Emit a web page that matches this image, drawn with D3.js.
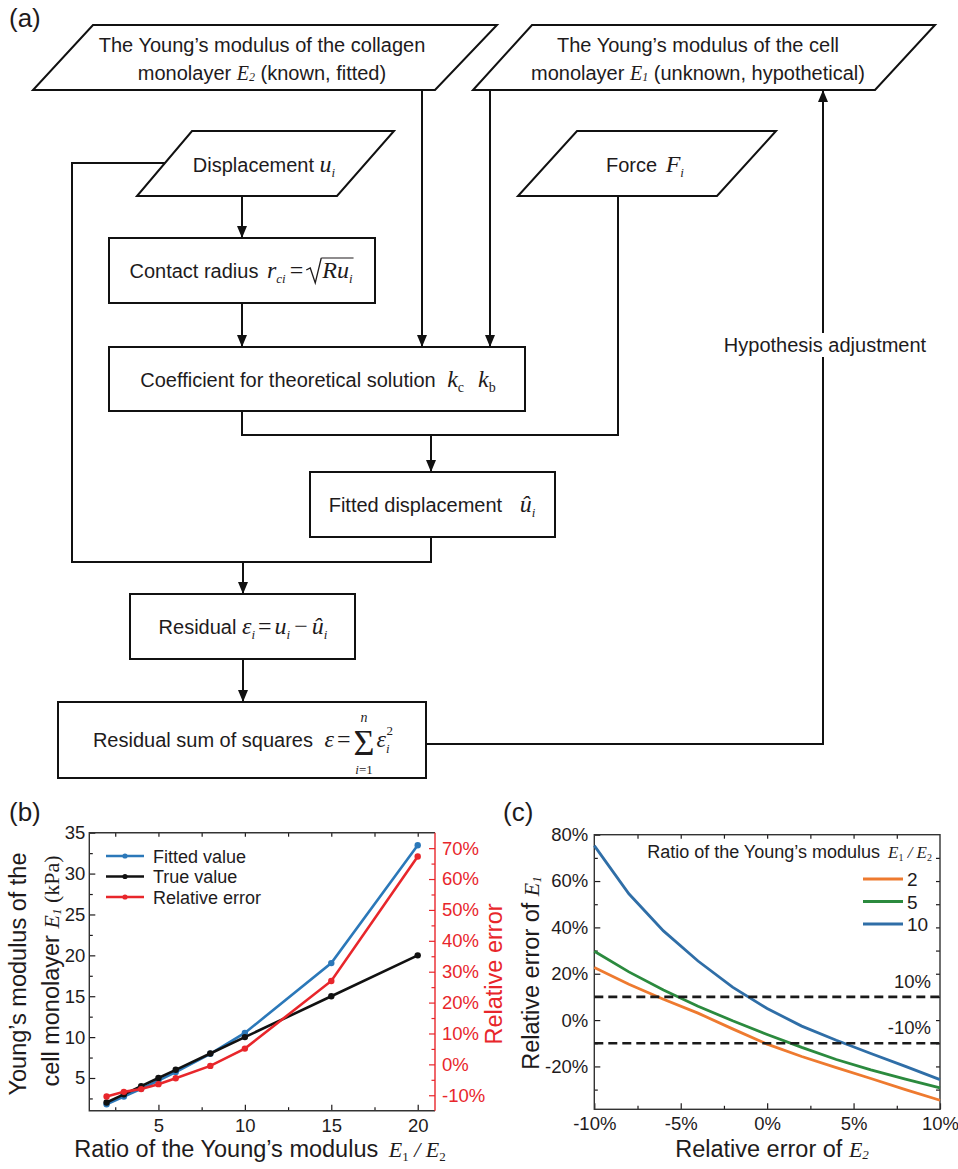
<!DOCTYPE html>
<html>
<head>
<meta charset="utf-8">
<script src="https://cdn.jsdelivr.net/npm/d3@7"></script>
<style>
  body { margin: 0; background: #fff; }
  svg { display: block; }
  text { white-space: pre; }
</style>
</head>
<body>
<script>
const W = 958, H = 1169;
const SANS = "Arial, 'Liberation Sans', Helvetica, sans-serif";
const SERIF = "'Times New Roman', 'Liberation Serif', serif";
const INK = "#1e1b1c";

// (b) fitted vs true Young's modulus of the cell monolayer
const ratios = [2, 3, 4, 5, 6, 8, 10, 15, 20];
const fittedE1 = [1.79, 2.73, 3.68, 4.68, 5.73, 7.96, 10.51, 19.05, 33.46];
const trueE1 = [2, 3, 4, 5, 6, 8, 10, 15, 20];
const relErr = [-10.4, -8.9, -8.0, -6.4, -4.5, -0.5, 5.1, 27.0, 67.3];
const legendB = ["Fitted value", "True value", "Relative error"];

// (c) relative error of E1 vs relative error of E2
const e2Err = [-10, -8, -6, -4, -2, 0, 2, 4, 6, 8, 10];
const ratioNames = ["2", "5", "10"];
const errRatio2 = [22.7, 15.5, 9.0, 3.0, -3.8, -10.4, -15.7, -20.5, -25.2, -30.0, -34.6];
const errRatio5 = [29.7, 20.8, 13.0, 6.0, -0.3, -6.2, -11.8, -17.0, -21.5, -25.5, -29.3];
const errRatio10 = [75.3, 54.5, 38.5, 25.5, 14.2, 5.0, -2.6, -8.7, -14.4, -20.0, -25.7];
const thresholds = [10, -10];

const svg = d3.select("body").append("svg")
    .attr("width", W)
    .attr("height", H)
    .style("font-family", SANS);

svg.append("rect").attr("width", W).attr("height", H).attr("fill", "#fff");

// arrow head
svg.append("defs").append("marker")
    .attr("id", "arr")
    .attr("viewBox", "0 0 12 10")
    .attr("refX", 12).attr("refY", 5)
    .attr("markerWidth", 12).attr("markerHeight", 10)
    .attr("markerUnits", "userSpaceOnUse")
    .attr("orient", "auto")
    .append("path").attr("d", "M0,0L12,5L0,10z").attr("fill", "#111");

// little helper: lays text pieces (sans, serif italic, sub/superscripts) one after another
function flow(parent, x, y, pieces, align = "middle", fill = INK) {
    const g = parent.append("g");
    let cur = 0, radStart = 0;
    pieces.forEach(p => {
        if (p.gap !== undefined) { cur += p.gap; return; }
        if (p.rad === "open") {
            g.append("path")
                .attr("d", `M${cur},-8L${cur + 4},-10L${cur + 9},5L${cur + 15},-20`)
                .attr("fill", "none").attr("stroke", fill).attr("stroke-width", 1.3);
            radStart = cur + 15;
            cur += 16;
            return;
        }
        if (p.rad === "close") {
            g.append("line").attr("x1", radStart).attr("x2", cur + 1)
                .attr("y1", -20).attr("y2", -20)
                .attr("stroke", fill).attr("stroke-width", 1.2);
            cur += 2;
            return;
        }
        if (p.sum) {
            const t = g.append("text").attr("x", cur).attr("y", 8).text("Σ")
                .attr("font-family", SERIF).attr("font-size", 36).attr("fill", fill);
            const w = t.node().getComputedTextLength();
            g.append("text").attr("x", cur + w / 2).attr("y", -25).text("n")
                .attr("text-anchor", "middle").attr("font-family", SERIF)
                .attr("font-style", "italic").attr("font-size", 14).attr("fill", fill);
            const lo = g.append("text").attr("x", cur + w / 2).attr("y", 27)
                .attr("text-anchor", "middle").attr("font-family", SERIF)
                .attr("font-size", 13).attr("fill", fill);
            lo.append("tspan").attr("font-style", "italic").text("i");
            lo.append("tspan").text("=1");
            cur += w + 2;
            return;
        }
        const t = g.append("text")
            .attr("x", cur).attr("y", p.dy || 0)
            .text(p.t)
            .attr("font-family", p.f === "s" ? SANS : SERIF)
            .attr("font-style", p.i ? "italic" : "normal")
            .attr("font-size", p.size || 20)
            .attr("fill", fill);
        cur += t.node().getComputedTextLength() + (p.dx || 0);
    });
    const x0 = align === "middle" ? x - cur / 2 : align === "end" ? x - cur : x;
    g.attr("transform", `translate(${x0},${y})`);
    return g;
}

const S = 20, M = 24, SB = 13;
const sans = t => ({ t, f: "s", size: S });
const it = t => ({ t, i: 1, size: M });
const sub = t => ({ t, i: 1, size: SB, dy: 5 });

// ---------- (a) flow chart ----------
const fa = svg.append("g");

function para(pts) {
    fa.append("path").attr("d", "M" + pts.map(p => p.join(",")).join("L") + "Z")
        .attr("fill", "#fff").attr("stroke", "#111").attr("stroke-width", 2);
}
function box(x0, y0, x1, y1) {
    fa.append("rect").attr("x", x0).attr("y", y0).attr("width", x1 - x0).attr("height", y1 - y0)
        .attr("fill", "#fff").attr("stroke", "#111").attr("stroke-width", 2);
}
function wire(pts, arrow) {
    const p = fa.append("path").attr("d", d3.line()(pts))
        .attr("fill", "none").attr("stroke", "#111").attr("stroke-width", 2);
    if (arrow) p.attr("marker-end", "url(#arr)");
}

// connectors first, shapes on top
wire([[242, 196], [242, 238]], true);
wire([[242, 303], [242, 347]], true);
wire([[422, 90], [422, 347]], true);
wire([[490, 90], [490, 347]], true);
wire([[618, 196], [618, 435], [242, 435], [242, 411]]);
wire([[431, 435], [431, 472]], true);
wire([[165, 163], [72, 163], [72, 562], [431, 562], [431, 537]]);
wire([[243, 562], [243, 594]], true);
wire([[243, 659], [243, 702]], true);
wire([[426, 744], [823, 744], [823, 90]], true);

para([[93, 25], [497, 25], [435, 90], [33, 90]]);
para([[532, 25], [935, 25], [875, 90], [473, 90]]);
para([[192, 131], [394, 131], [337, 196], [137, 196]]);
para([[577, 131], [776, 131], [717, 196], [518, 196]]);
box(109, 238, 375, 303);
box(109, 347, 525, 411);
box(310, 472, 555, 537);
box(130, 594, 355, 659);
box(58, 702, 426, 778);

flow(fa, 262, 52, [sans("The Young’s modulus of the collagen")]);
flow(fa, 262, 80, [sans("monolayer "), { t: "E", i: 1, size: 20 }, { t: "2", i: 1, size: 12, dy: 1 },
    sans(" (known, fitted)")]);
flow(fa, 698, 52, [sans("The Young’s modulus of the cell")]);
flow(fa, 698, 80, [sans("monolayer "), { t: "E", i: 1, size: 20 }, { t: "1", i: 1, size: 12, dy: 1 },
    sans(" (unknown, hypothetical)")]);
flow(fa, 264, 172, [sans("Displacement "), it("u"), sub("i")]);
flow(fa, 645, 172, [sans("Force "), { gap: 3 }, it("F"), sub("i")]);
flow(fa, 242, 278, [sans("Contact radius "), { gap: 3 }, it("r"), sub("ci"), { gap: 4 },
    { t: "=", size: M }, { gap: 3 }, { rad: "open" }, it("Ru"), sub("i"), { rad: "close" }]);
flow(fa, 318, 387, [sans("Coefficient for theoretical solution "), { gap: 6 }, it("k"),
    { t: "c", size: 14, dy: 5 }, { gap: 14 }, it("k"), { t: "b", size: 14, dy: 5 }]);
flow(fa, 432, 512, [sans("Fitted displacement "), { gap: 12 }, it("û"), sub("i")]);
flow(fa, 243, 634, [sans("Residual "), it("ε"), sub("i"), { gap: 3 }, { t: "=", size: M }, { gap: 3 },
    it("u"), sub("i"), { gap: 4 }, { t: "−", size: M }, { gap: 4 }, it("û"), sub("i")]);
flow(fa, 243, 747, [sans("Residual sum of squares "), { gap: 6 }, it("ε"), { gap: 3 },
    { t: "=", size: M }, { gap: 3 }, { sum: 1 }, it("ε"), { t: "i", i: 1, size: SB, dy: 6, dx: -3 },
    { t: "2", size: SB, dy: -12 }]);

// label on the feedback wire, with the wire broken behind it
const hyp = flow(fa, 825, 352, [sans("Hypothesis adjustment")]);
const hb = hyp.node().getBBox();
fa.insert("rect", () => hyp.node())
    .attr("x", 825 - hb.width / 2 - 2).attr("y", 352 + hb.y - 1)
    .attr("width", hb.width + 4).attr("height", hb.height + 2).attr("fill", "#fff");

// panel letters
[["(a)", 9, 27], ["(b)", 9, 821], ["(c)", 503, 821]].forEach(([t, x, y]) => {
    svg.append("text").attr("x", x).attr("y", y).text(t)
        .attr("font-size", 26).attr("fill", INK);
});

// ---------- shared axis styling ----------
function styleAxis(g, color, size) {
    g.select(".domain").remove();
    g.selectAll(".tick line").attr("stroke", color).attr("stroke-width", 1.2);
    g.selectAll(".tick text").attr("fill", color).attr("font-size", size)
        .attr("font-family", SANS);
}

// ---------- (b) ----------
const blue = "#2b78b9", red = "#e8262b", black = "#111";
const xb = d3.scaleLinear([1, 21], [89.3, 435]);
const yb = d3.scaleLinear([1, 35], [1110.7, 832.7]);
const yr = d3.scaleLinear([-15, 75], [1110.7, 832.7]);
const gb = svg.append("g");

const [bx0, bx1] = xb.range(), [by1, by0] = yb.range();

gb.append("g").attr("transform", `translate(0,${by1})`)
    .call(d3.axisBottom(xb).tickValues([5, 10, 15, 20]).tickSize(-6).tickPadding(8))
    .call(styleAxis, INK, 18.5);
gb.append("g").attr("transform", `translate(0,${by1})`)
    .call(d3.axisBottom(xb).tickValues([2.5, 7.5, 12.5, 17.5]).tickSize(-3.5).tickFormat(""))
    .call(styleAxis, INK, 0);
gb.append("g").attr("transform", `translate(0,${by0})`)
    .call(d3.axisTop(xb).tickValues([2.5, 5, 7.5, 10, 12.5, 15, 17.5, 20]).tickSize(-4).tickFormat(""))
    .call(styleAxis, INK, 0);
gb.append("g").attr("transform", `translate(${bx0},0)`)
    .call(d3.axisLeft(yb).tickValues(d3.range(5, 36, 5)).tickSize(-6).tickPadding(4))
    .call(styleAxis, INK, 18.5);
gb.append("g").attr("transform", `translate(${bx0},0)`)
    .call(d3.axisLeft(yb).tickValues(d3.range(2.5, 35, 5)).tickSize(-3.5).tickFormat(""))
    .call(styleAxis, INK, 0);
gb.append("g").attr("transform", `translate(${bx1},0)`)
    .call(d3.axisRight(yr).tickValues(d3.range(-10, 71, 10)).tickSize(-6).tickPadding(7)
        .tickFormat(d => d + "%"))
    .call(styleAxis, red, 18.5);
gb.append("g").attr("transform", `translate(${bx1},0)`)
    .call(d3.axisRight(yr).tickValues(d3.range(-5, 70, 10)).tickSize(-3.5).tickFormat(""))
    .call(styleAxis, red, 0);

// frame
gb.append("path").attr("d", `M${bx1},${by0}L${bx0},${by0}L${bx0},${by1}L${bx1},${by1}`)
    .attr("fill", "none").attr("stroke", "#333").attr("stroke-width", 1.4);
gb.append("line").attr("x1", bx1).attr("x2", bx1).attr("y1", by0).attr("y2", by1)
    .attr("stroke", red).attr("stroke-width", 1.4);

const seriesB = [
    { vals: fittedE1, color: blue, y: yb },
    { vals: trueE1, color: black, y: yb },
    { vals: relErr, color: red, y: yr }
];
seriesB.forEach(s => {
    const pts = ratios.map((r, i) => [xb(r), s.y(s.vals[i])]);
    gb.append("path").attr("d", d3.line()(pts))
        .attr("fill", "none").attr("stroke", s.color).attr("stroke-width", 2.6);
    gb.selectAll(null).data(pts).enter().append("circle")
        .attr("cx", d => d[0]).attr("cy", d => d[1]).attr("r", 3.2).attr("fill", s.color);
});

// legend (b)
seriesB.forEach((s, i) => {
    const ly = 856 + i * 20.5;
    gb.append("line").attr("x1", 106).attr("x2", 144).attr("y1", ly).attr("y2", ly)
        .attr("stroke", s.color).attr("stroke-width", 2.6);
    gb.append("circle").attr("cx", 125).attr("cy", ly).attr("r", 2.6).attr("fill", s.color);
    gb.append("text").attr("x", 153).attr("y", ly + 6.5).text(legendB[i])
        .attr("font-size", 18).attr("fill", INK);
});

// axis titles (b)
const AX = 23.5;
flow(gb, 260, 1157, [{ t: "Ratio of the Young’s modulus ", f: "s", size: AX }, { gap: 4 },
    { t: "E", i: 1, size: 22 }, { t: "1", size: 13, dy: 4 }, { t: " / ", i: 1, size: 22 },
    { t: "E", i: 1, size: 22 }, { t: "2", size: 13, dy: 4 }]);
const ylb1 = gb.append("g").attr("transform", "translate(25.5,974) rotate(-90)");
flow(ylb1, 0, 0, [{ t: "Young’s modulus of the", f: "s", size: AX }]);
const ylb2 = gb.append("g").attr("transform", "translate(59,971) rotate(-90)");
flow(ylb2, 0, 0, [{ t: "cell monolayer ", f: "s", size: AX }, { t: "E", i: 1, size: 22 },
    { t: "1", i: 1, size: 13, dy: 2 }, { t: " (kPa)", size: 22 }]);
const yrb = gb.append("g").attr("transform", "translate(502,974) rotate(-90)");
flow(yrb, 0, 0, [{ t: "Relative error", f: "s", size: AX }], "middle", red);

// ---------- (c) ----------
const cOrange = "#ee7a2f", cGreen = "#2b8a3e", cBlue = "#2f6ea7";
const xc = d3.scaleLinear([-10, 10], [594.3, 940]);
const yc = d3.scaleLinear([-38.5, 80], [1109.3, 834.7]);
const gc = svg.append("g");
const [cx0, cx1] = xc.range(), [cy1, cy0] = yc.range();
const pct = d => d + "%";

gc.append("g").attr("transform", `translate(0,${cy1})`)
    .call(d3.axisBottom(xc).tickValues([-10, -5, 0, 5, 10]).tickSize(-6).tickPadding(8).tickFormat(pct))
    .call(styleAxis, INK, 18.5);
gc.append("g").attr("transform", `translate(0,${cy1})`)
    .call(d3.axisBottom(xc).tickValues([-7.5, -2.5, 2.5, 7.5]).tickSize(-3.5).tickFormat(""))
    .call(styleAxis, INK, 0);
gc.append("g").attr("transform", `translate(0,${cy0})`)
    .call(d3.axisTop(xc).tickValues([-7.5, -5, -2.5, 0, 2.5, 5, 7.5]).tickSize(-4).tickFormat(""))
    .call(styleAxis, INK, 0);
gc.append("g").attr("transform", `translate(${cx0},0)`)
    .call(d3.axisLeft(yc).tickValues(d3.range(-20, 81, 20)).tickSize(-6).tickPadding(6).tickFormat(pct))
    .call(styleAxis, INK, 18.5);
gc.append("g").attr("transform", `translate(${cx0},0)`)
    .call(d3.axisLeft(yc).tickValues(d3.range(-30, 80, 20)).tickSize(-3.5).tickFormat(""))
    .call(styleAxis, INK, 0);
gc.append("g").attr("transform", `translate(${cx1},0)`)
    .call(d3.axisRight(yc).tickValues(d3.range(-30, 80, 10)).tickSize(-4).tickFormat(""))
    .call(styleAxis, INK, 0);

gc.append("rect").attr("x", cx0).attr("y", cy0).attr("width", cx1 - cx0).attr("height", cy1 - cy0)
    .attr("fill", "none").attr("stroke", "#333").attr("stroke-width", 1.4);

const seriesC = [
    { vals: errRatio2, color: cOrange },
    { vals: errRatio5, color: cGreen },
    { vals: errRatio10, color: cBlue }
];
seriesC.forEach(s => {
    gc.append("path")
        .attr("d", d3.line()(e2Err.map((e, i) => [xc(e), yc(s.vals[i])])))
        .attr("fill", "none").attr("stroke", s.color).attr("stroke-width", 2.8);
});

thresholds.forEach(t => {
    gc.append("line").attr("x1", cx0).attr("x2", cx1).attr("y1", yc(t)).attr("y2", yc(t))
        .attr("stroke", "#1a1a1a").attr("stroke-width", 2.6).attr("stroke-dasharray", "9,5");
    gc.append("text").attr("x", 931).attr("y", yc(t) - 9).text(pct(t))
        .attr("text-anchor", "end").attr("font-size", 18.5).attr("fill", INK);
});

// legend (c)
flow(gc, 932, 858, [{ t: "Ratio of the Young’s modulus ", f: "s", size: 18 }, { gap: 3 },
    { t: "E", i: 1, size: 17 }, { t: "1", size: 10, dy: 3 }, { t: " / ", i: 1, size: 17 },
    { t: "E", i: 1, size: 17 }, { t: "2", size: 10, dy: 3 }], "end");
seriesC.forEach((s, i) => {
    const ly = 879 + i * 22.5;
    gc.append("line").attr("x1", 863).attr("x2", 903).attr("y1", ly).attr("y2", ly)
        .attr("stroke", s.color).attr("stroke-width", 2.8);
    gc.append("text").attr("x", 907).attr("y", ly + 7).text(ratioNames[i])
        .attr("font-size", 19).attr("fill", INK);
});

// axis titles (c)
flow(gc, 772, 1157, [{ t: "Relative error of ", f: "s", size: AX },
    { t: "E", i: 1, size: 22 }, { t: "2", i: 1, size: 13, dy: 2 }]);
const ylc = gc.append("g").attr("transform", "translate(538.5,973) rotate(-90)");
flow(ylc, 0, 0, [{ t: "Relative error of ", f: "s", size: AX },
    { t: "E", i: 1, size: 22 }, { t: "1", i: 1, size: 13, dy: 2 }]);
</script>
</body>
</html>
